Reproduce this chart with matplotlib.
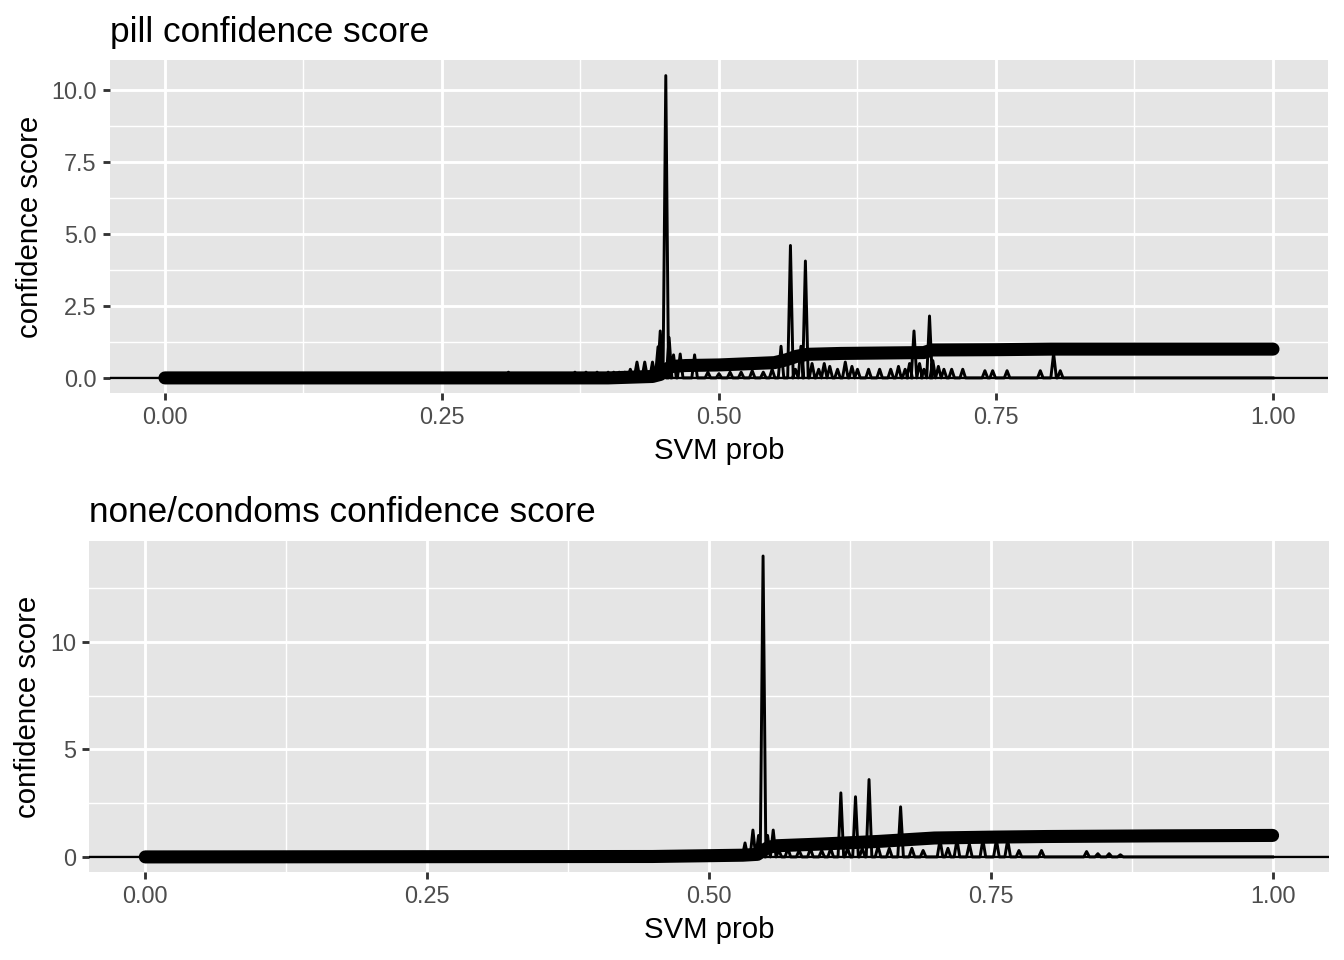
import matplotlib
matplotlib.use("Agg")
import matplotlib.pyplot as plt
from matplotlib.ticker import FixedLocator, FormatStrFormatter

plt.rcParams["font.family"] = ["Liberation Sans", "DejaVu Sans"]

# ---- data ----
# thick curve (mean confidence vs SVM prob)
pill_curve_x = [0.0, 0.40, 0.44, 0.447, 0.452, 0.458, 0.47, 0.50, 0.55, 0.56, 0.57, 0.58,
                0.61, 0.685, 0.692, 0.75, 0.80, 1.0]
pill_curve_y = [0.0, 0.0, 0.05, 0.12, 0.30, 0.40, 0.43, 0.45, 0.53, 0.62, 0.75, 0.82,
                0.85, 0.88, 0.97, 0.98, 1.0, 1.0]

none_curve_x = [0.0, 0.45, 0.53, 0.543, 0.548, 0.553, 0.56, 0.60, 0.65, 0.70, 0.75, 0.80,
                0.90, 1.0]
none_curve_y = [0.0, 0.02, 0.08, 0.12, 0.30, 0.45, 0.52, 0.60, 0.72, 0.88, 0.92, 0.95,
                0.98, 1.0]

# spiky thin line: spike centres and heights (baseline 0 elsewhere)
pill_spike_x = [0.31, 0.37, 0.38, 0.39, 0.40, 0.405, 0.41, 0.415, 0.42, 0.426, 0.433, 0.44,
                0.445, 0.447, 0.452, 0.455, 0.459, 0.465, 0.478, 0.49, 0.50, 0.51, 0.52,
                0.53, 0.54, 0.548, 0.556, 0.5645, 0.569, 0.574, 0.578, 0.584, 0.59,
                0.595, 0.60, 0.607, 0.614, 0.62, 0.625, 0.635, 0.645, 0.655, 0.662, 0.668,
                0.672, 0.676, 0.681, 0.685, 0.690, 0.693, 0.698, 0.703, 0.71, 0.72, 0.74,
                0.747, 0.76, 0.79, 0.802, 0.808]
pill_spike_h = [0.2, 0.2, 0.2, 0.2, 0.2, 0.2, 0.2, 0.2, 0.3, 0.55, 0.55, 0.55,
                1.08, 1.63, 10.5, 1.4, 0.8, 0.83, 0.8, 0.2, 0.15, 0.2, 0.2,
                0.25, 0.2, 0.3, 1.1, 4.6, 0.3, 1.1, 4.06, 0.5, 0.3,
                0.5, 0.4, 0.3, 0.55, 0.4, 0.3, 0.3, 0.3, 0.3, 0.4, 0.3,
                0.5, 1.63, 0.5, 0.3, 2.15, 0.6, 0.4, 0.3, 0.3, 0.3, 0.25,
                0.25, 0.25, 0.25, 0.85, 0.25]

none_spike_x = [0.44, 0.45, 0.46, 0.475, 0.49, 0.50, 0.51, 0.52, 0.527, 0.532, 0.539, 0.544,
                0.548, 0.552, 0.557, 0.562, 0.57, 0.58, 0.59, 0.60, 0.608, 0.617, 0.623,
                0.630, 0.636, 0.642, 0.65, 0.66, 0.670, 0.68, 0.69, 0.705, 0.712, 0.72,
                0.731, 0.743, 0.755, 0.765, 0.775, 0.795, 0.835, 0.845, 0.855, 0.865]
none_spike_h = [0.2, 0.2, 0.15, 0.2, 0.15, 0.2, 0.2, 0.2, 0.3, 0.65, 1.25, 1.0,
                14.0, 1.0, 1.25, 0.3, 0.4, 0.3, 0.4, 0.3, 0.4, 2.98, 0.4,
                2.8, 0.4, 3.6, 0.5, 0.4, 2.33, 0.4, 0.3, 0.8, 0.4, 0.8,
                0.6, 0.8, 0.8, 0.8, 0.3, 0.3, 0.25, 0.15, 0.15, 0.1]

pill_yticks = [0.0, 2.5, 5.0, 7.5, 10.0]
none_yticks = [0, 5, 10]
x_ticks = [0.0, 0.25, 0.5, 0.75, 1.0]

SPIKE_HALF_WIDTH = 0.0025


def spike_line(cx, ch):
    xs, ys = [0.0], [0.0]
    for c, h in zip(cx, ch):
        xs += [c - SPIKE_HALF_WIDTH, c, c + SPIKE_HALF_WIDTH]
        ys += [0.0, h, 0.0]
    xs.append(1.0)
    ys.append(0.0)
    return xs, ys


def gg_panel(ax, curve_x, curve_y, spike_x, spike_h, yticks, yfmt, title):
    ax.set_facecolor("#E5E5E5")
    for s in ax.spines.values():
        s.set_visible(False)

    lx, ly = spike_line(spike_x, spike_h)
    ax.plot(lx, ly, color="black", lw=1.1, zorder=3)
    ax.plot(curve_x, curve_y, color="black", lw=4.9, solid_capstyle="round", zorder=4)
    ax.axhline(0, color="black", lw=0.9, zorder=3)

    ymin = min(0.0, min(curve_y))
    ymax = max(max(spike_h), max(curve_y))
    span = ymax - ymin
    ax.set_ylim(ymin - 0.05 * span, ymax + 0.05 * span)
    ax.set_xlim(-0.05, 1.05)

    ax.xaxis.set_major_locator(FixedLocator(x_ticks))
    ax.xaxis.set_minor_locator(FixedLocator([0.125, 0.375, 0.625, 0.875]))
    ax.xaxis.set_major_formatter(FormatStrFormatter("%.2f"))
    ax.yaxis.set_major_locator(FixedLocator(yticks))
    step = yticks[1] - yticks[0]
    ax.yaxis.set_minor_locator(FixedLocator([t + step / 2 for t in [yticks[0] - step] + yticks]))
    ax.yaxis.set_major_formatter(FormatStrFormatter(yfmt))

    ax.grid(which="major", color="white", lw=1.07, zorder=0)
    ax.grid(which="minor", color="white", lw=0.53, zorder=0)
    ax.set_axisbelow(True)
    ax.tick_params(which="major", length=2.75, width=1.07, color="#333333",
                   labelcolor="#4D4D4D", labelsize=8.8, pad=2.2)
    ax.tick_params(which="minor", length=0)

    ax.set_xlabel("SVM prob", fontsize=11, labelpad=2.75)
    ax.set_ylabel("confidence score", fontsize=11, labelpad=2.75)
    ax.set_title(title, loc="left", fontsize=13.2, pad=7)


fig = plt.figure(figsize=(7, 5), dpi=192)
ax1 = fig.add_axes([0.0815, 0.5906, 0.9884 - 0.0815, 0.937 - 0.5906])
ax2 = fig.add_axes([0.0662, 0.0917, 0.9888 - 0.0662, 0.4365 - 0.0917])

gg_panel(ax1, pill_curve_x, pill_curve_y, pill_spike_x, pill_spike_h,
         pill_yticks, "%.1f", "pill confidence score")
gg_panel(ax2, none_curve_x, none_curve_y, none_spike_x, none_spike_h,
         none_yticks, "%d", "none/condoms confidence score")

fig.savefig("out.png", dpi=192)
